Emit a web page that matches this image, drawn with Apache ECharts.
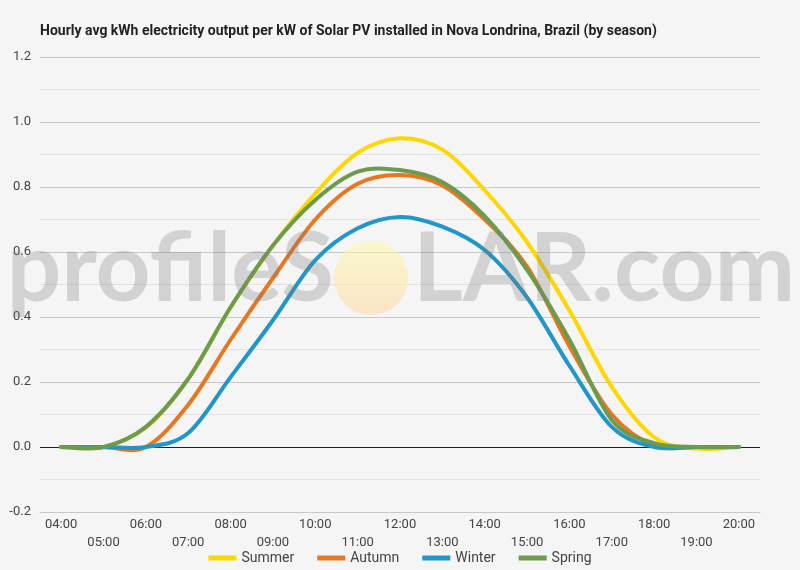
<!DOCTYPE html>
<html>
<head>
<meta charset="utf-8">
<script src="https://cdn.jsdelivr.net/npm/echarts@6/dist/echarts.min.js"></script>
<style>
  html, body { margin: 0; padding: 0; background: #f5f5f5; }
  #chart { width: 800px; height: 570px; }
</style>
</head>
<body>
<div id="chart"></div>
<script>
// hours on the x axis
const hours = ['04:00', '05:00', '06:00', '07:00', '08:00', '09:00', '10:00', '11:00', '12:00',
  '13:00', '14:00', '15:00', '16:00', '17:00', '18:00', '19:00', '20:00'];

// kWh per kW
const summer = [0, 0, 0.06, 0.21, 0.43, 0.62, 0.78, 0.905, 0.95, 0.915, 0.79, 0.63, 0.42, 0.185, 0.03, -0.005, 0];
const autumn = [0, 0, 0, 0.13, 0.33, 0.52, 0.70, 0.81, 0.837, 0.805, 0.70, 0.555, 0.31, 0.10, 0.005, 0, 0];
const winter = [0, 0, 0, 0.043, 0.215, 0.39, 0.575, 0.673, 0.708, 0.678, 0.606, 0.46, 0.25, 0.062, 0, 0, 0];
const spring = [0, 0, 0.062, 0.21, 0.43, 0.62, 0.76, 0.847, 0.852, 0.815, 0.71, 0.545, 0.33, 0.083, 0.012, 0, 0];

const seasonNames = ['Summer', 'Autumn', 'Winter', 'Spring'];
const seasonColors = ['#ffd700', '#e87722', '#2196c8', '#6d9b4e'];

const chart = echarts.init(document.getElementById('chart'));

// smooth curve through the points (catmull-rom), placed with the axes' own coord()
function curveSeries(name, values, color, withZeroLine) {
    const s = {
        name: name,
        type: 'custom',
        coordinateSystem: 'cartesian2d',
        data: values.map((v, i) => [i, v]),
        encode: { x: 0, y: 1 },
        itemStyle: { color: color },
        renderItem: function (params, api) {
            if (params.dataIndex !== 0) return null;
            const pts = values.map((v, i) => api.coord([i, v]));
            let d = 'M' + pts[0][0] + ' ' + pts[0][1];
            for (let i = 0; i < pts.length - 1; i++) {
                const p0 = pts[i - 1] || pts[i];
                const p1 = pts[i];
                const p2 = pts[i + 1];
                const p3 = pts[i + 2] || p2;
                const c1x = p1[0] + (p2[0] - p0[0]) / 6;
                const c1y = p1[1] + (p2[1] - p0[1]) / 6;
                const c2x = p2[0] - (p3[0] - p1[0]) / 6;
                const c2y = p2[1] - (p3[1] - p1[1]) / 6;
                d += ' C' + c1x + ' ' + c1y + ' ' + c2x + ' ' + c2y + ' ' + p2[0] + ' ' + p2[1];
            }
            return {
                type: 'path',
                shape: { pathData: d },
                style: { stroke: color, lineWidth: 4, fill: null, lineJoin: 'round', lineCap: 'round' }
            };
        }
    };
    if (withZeroLine) {
        // black line at 0.0
        s.markLine = {
            silent: true,
            symbol: 'none',
            label: { show: false },
            lineStyle: { color: '#222', width: 1, type: 'solid' },
            data: [{ yAxis: 0 }],
            z: 1
        };
    }
    return s;
}

const option = {
    backgroundColor: '#f5f5f5',
    textStyle: { fontFamily: 'Roboto' },
    title: {
        text: 'Hourly avg kWh electricity output per kW of Solar PV installed in Nova Londrina, Brazil (by season)',
        left: 35,
        top: 19,
        textStyle: { fontSize: 14, fontWeight: 'bold', color: '#222', fontFamily: 'Roboto' }
    },
    legend: {
        data: seasonNames,
        bottom: 0,
        left: 'center',
        icon: 'rect',
        itemWidth: 28,
        itemHeight: 5,
        itemGap: 23,
        textStyle: { fontSize: 14, color: '#444' }
    },
    grid: { left: 40, right: 40, top: 57, bottom: 58 },
    xAxis: {
        type: 'category',
        data: hours,
        boundaryGap: true,
        axisLine: { onZero: false, lineStyle: { color: '#c8c8c8' } },
        axisTick: { show: false },
        axisLabel: {
            interval: 0,
            margin: 4,
            fontSize: 13,
            lineHeight: 18,
            color: '#444',
            formatter: (v, i) => (i % 2 ? '\n' + v : v)
        }
    },
    yAxis: {
        type: 'value',
        min: -0.2,
        max: 1.2,
        interval: 0.2,
        axisLine: { show: false },
        axisTick: { show: false },
        axisLabel: { fontSize: 13, color: '#444', margin: 9, formatter: v => v.toFixed(1) },
        splitLine: { lineStyle: { color: '#c8c8c8' } },
        minorTick: { show: false, splitNumber: 2 },
        minorSplitLine: { show: true, lineStyle: { color: '#e2e2e2' } }
    },
    series: [
        curveSeries('Summer', summer, seasonColors[0], true),
        curveSeries('Autumn', autumn, seasonColors[1]),
        curveSeries('Winter', winter, seasonColors[2]),
        curveSeries('Spring', spring, seasonColors[3])
    ],
    graphic: [
        {
            type: 'text',
            z: 100,
            silent: true,
            right: 800 - 334,
            top: 222,
            style: {
                text: 'profileS',
                font: 'bold 96px Lato',
                fill: 'rgba(120,120,120,0.28)'
            }
        },
        {
            type: 'circle',
            z: 99,
            silent: true,
            shape: { cx: 371, cy: 278, r: 37 },
            style: {
                fill: new echarts.graphic.LinearGradient(0, 0, 0, 1, [
                    { offset: 0, color: 'rgba(255,250,170,0.55)' },
                    { offset: 1, color: 'rgba(255,215,160,0.55)' }
                ])
            }
        },
        {
            type: 'text',
            z: 100,
            silent: true,
            left: 413,
            top: 222,
            style: {
                text: 'LAR.com',
                font: 'bold 96px Lato',
                fill: 'rgba(120,120,120,0.28)'
            }
        }
    ]
};

chart.setOption(option);
</script>
</body>
</html>
